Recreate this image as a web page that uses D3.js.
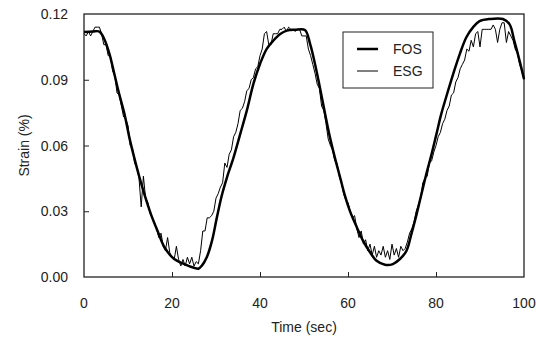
<!DOCTYPE html>
<html>
<head>
<meta charset="utf-8">
<script src="https://cdn.jsdelivr.net/npm/d3@7"></script>
<style>
  body { margin: 0; background: #fff; }
  text { font-family: "Liberation Sans", Arial, sans-serif; fill: #222; }
</style>
</head>
<body>
<div class="chart"></div>
<script>
// FOS readings (time in sec, strain in %)
const fosTime = [0,2,3.5,4.6,5.8,6.9,8,9.2,10.3,11.4,12.6,13.7,15.2,16.7,18.3,20.5,22.8,25,26,26.8,27.9,29.1,30.2,31.3,32.5,34,35.5,37,38.5,40,41.5,43,44.6,46.1,48,50.2,51.4,52.5,53.6,54.8,55.9,57,58.2,59.3,60.4,62,63.4,65,66.5,68.4,70.2,71.8,73.3,74.4,75.6,76.7,77.8,79,80.1,81.2,82.4,83.9,85.4,86.9,88.4,89.9,92.2,95.2,96.7,97.8,99,100]
const fosStrain = [0.1118,0.1120,0.1120,0.1086,0.1017,0.0926,0.0835,0.0744,0.0637,0.0546,0.0455,0.0379,0.0287,0.0211,0.0135,0.0082,0.0059,0.0042,0.0038,0.0052,0.0090,0.0166,0.0272,0.0371,0.0455,0.0546,0.0652,0.0759,0.0881,0.0972,0.1040,0.1078,0.1109,0.1124,0.1128,0.1127,0.1063,0.0972,0.0866,0.0744,0.0637,0.0546,0.0455,0.0371,0.0303,0.0227,0.0166,0.0113,0.0074,0.0056,0.0059,0.0082,0.0120,0.0196,0.0287,0.0379,0.0470,0.0561,0.0652,0.0744,0.0827,0.0926,0.1017,0.1094,0.1139,0.1167,0.1177,0.1177,0.1154,0.1078,0.0987,0.0903]

// ESG readings every 0.5 sec
const esgTime = d3.range(0, 100.25, 0.5)
const esgStrain = [
  0.111,0.110,0.112,0.110,0.112,0.114,0.114,0.114,0.111,0.106,
  0.106,0.101,0.101,0.094,0.092,0.084,0.083,0.078,0.073,0.072,
  0.069,0.060,0.059,0.052,0.050,0.045,0.032,0.046,0.036,0.034,
  0.029,0.027,0.025,0.022,0.018,0.020,0.014,0.012,0.018,0.011,
  0.009,0.008,0.014,0.008,0.005,0.008,0.005,0.009,0.006,0.009,
  0.005,0.007,0.006,0.012,0.021,0.021,0.027,0.027,0.028,0.030,
  0.036,0.038,0.041,0.043,0.052,0.050,0.056,0.058,0.064,0.066,
  0.070,0.076,0.077,0.080,0.085,0.086,0.090,0.091,0.095,0.096,
  0.101,0.104,0.111,0.112,0.106,0.106,0.111,0.111,0.111,0.113,
  0.113,0.114,0.112,0.114,0.113,0.113,0.112,0.113,0.113,0.110,
  0.110,0.110,0.104,0.101,0.097,0.093,0.088,0.086,0.078,0.076,
  0.070,0.063,0.060,0.058,0.053,0.052,0.046,0.043,0.038,0.035,
  0.034,0.030,0.027,0.028,0.022,0.018,0.021,0.015,0.017,0.012,
  0.015,0.010,0.014,0.009,0.012,0.010,0.014,0.009,0.012,0.008,
  0.015,0.010,0.013,0.009,0.014,0.012,0.013,0.016,0.020,0.022,
  0.025,0.030,0.033,0.036,0.043,0.045,0.046,0.052,0.053,0.057,
  0.060,0.064,0.066,0.070,0.072,0.076,0.078,0.083,0.084,0.089,
  0.091,0.095,0.097,0.099,0.104,0.103,0.108,0.105,0.111,0.112,
  0.105,0.113,0.113,0.113,0.113,0.113,0.115,0.113,0.107,0.113,
  0.116,0.116,0.107,0.112,0.110,0.108,0.104,0.102,0.097,0.094,
  0.090]

const xTicks = [0,20,40,60,80,100]
const yTicks = [0,0.03,0.06,0.09,0.12]
const seriesNames = ["FOS","ESG"]

const width = 541, height = 338
const margin = {top:14, right:17, bottom:61, left:84}

const svg = d3.select(".chart").append("svg").attr("width",width).attr("height",height)

const x = d3.scaleLinear().domain([0,100]).range([margin.left, width - margin.right])
const y = d3.scaleLinear().domain([0,0.12]).range([height - margin.bottom, margin.top])

// frame
svg.append("rect").attr("x",x(0)).attr("y",y(0.12))
   .attr("width",x(100)-x(0)).attr("height",y(0)-y(0.12))
   .attr("fill","none").attr("stroke","#222").attr("stroke-width",1.3)

// inward ticks
svg.append("g").attr("transform",`translate(0,${y(0)})`)
   .call(d3.axisTop(x).tickValues(xTicks.slice(1,-1)).tickSize(5).tickFormat(""))
   .call(g => g.select(".domain").remove())
   .selectAll("line").attr("stroke","#222")
svg.append("g").attr("transform",`translate(${x(0)},0)`)
   .call(d3.axisRight(y).tickValues(yTicks.slice(1,-1)).tickSize(5).tickFormat(""))
   .call(g => g.select(".domain").remove())
   .selectAll("line").attr("stroke","#222")

// tick labels
svg.append("g").selectAll("text").data(xTicks).enter().append("text")
   .attr("x",d=>x(d)).attr("y",y(0)+31).attr("text-anchor","middle")
   .style("font-size","14px").text(d=>d)
svg.append("g").selectAll("text").data(yTicks).enter().append("text")
   .attr("x",x(0)-16).attr("y",d=>y(d)+5).attr("text-anchor","end")
   .style("font-size","14px").text(d=>d.toFixed(2))

// axis titles
svg.append("text").attr("x",(x(0)+x(100))/2).attr("y",332).attr("text-anchor","middle")
   .style("font-size","14px").text("Time (sec)")
svg.append("text").attr("transform",`translate(29,${(y(0)+y(0.12))/2}) rotate(-90)`)
   .attr("text-anchor","middle").style("font-size","14px").text("Strain (%)")

// lines
const esgLine = d3.line().x((d,i)=>x(esgTime[i])).y(d=>y(d))
const fosLine = d3.line().x((d,i)=>x(fosTime[i])).y(d=>y(d)).curve(d3.curveCatmullRom)

svg.append("path").attr("d",esgLine(esgStrain)).attr("fill","none")
   .attr("stroke","#000").attr("stroke-width",1)
svg.append("path").attr("d",fosLine(fosStrain)).attr("fill","none")
   .attr("stroke","#000").attr("stroke-width",2.5).attr("stroke-linejoin","round")

// legend
const lg = svg.append("g").attr("transform","translate(343,32)")
lg.append("rect").attr("width",90).attr("height",56).attr("fill","#fff")
  .attr("stroke","#222").attr("stroke-width",1)
const item = lg.selectAll(".legend").data(seriesNames).enter().append("g")
  .attr("class","legend").attr("transform",(d,i)=>`translate(0,${17 + i*22})`)
item.append("line").attr("x1",14).attr("x2",35).attr("y1",0).attr("y2",0)
  .attr("stroke","#000").attr("stroke-width",(d,i)=> i==0 ? 2.5 : 1)
item.append("text").attr("x",50).attr("y",5).style("font-size","14px").text(d=>d)
</script>
</body>
</html>
